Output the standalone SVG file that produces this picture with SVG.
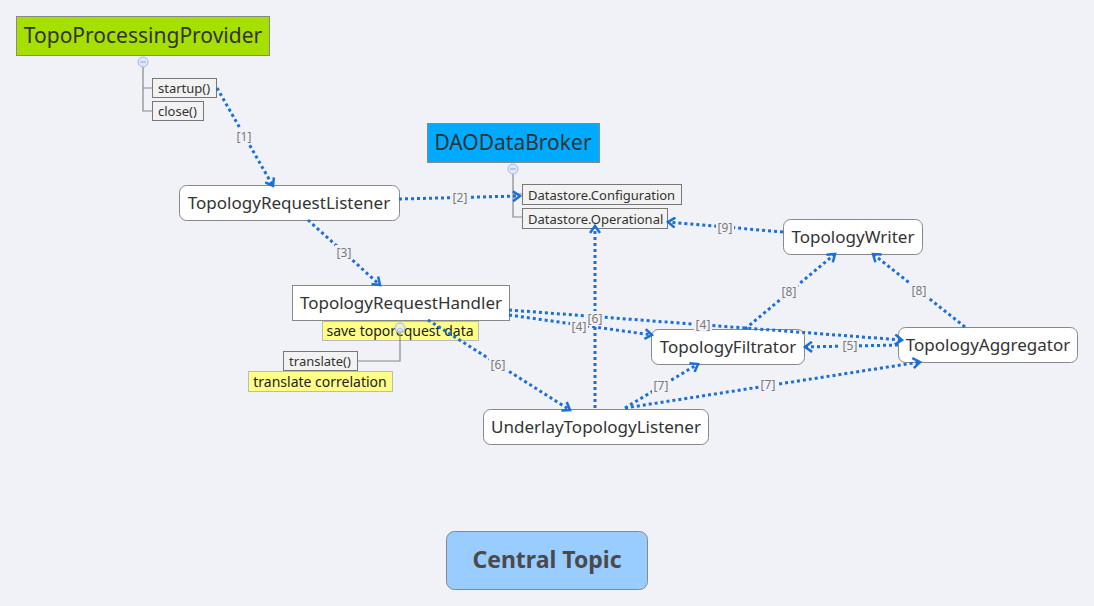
<svg xmlns="http://www.w3.org/2000/svg" width="1094" height="606" viewBox="0 0 1094 606">
<style>
text{font-family:"Noto Sans","DejaVu Sans",sans-serif;fill:#333}
.big{font-size:21px}
.mid{font-size:17px}
.sm{font-size:13px}
.nt{font-size:14px;fill:#222}
.node{fill:#fff;stroke:#888;stroke-width:1}
.sub{fill:#f2f2f2;stroke:#777;stroke-width:1}
.note{fill:#ffff88;stroke:#bbb;stroke-width:1}
.tree{fill:none;stroke:#888;stroke-width:1.2}
.col{fill:#dfe8fb;stroke:#9fb8e8;stroke-width:1}
.con{fill:none;stroke:#1a6fd8;stroke-width:3;stroke-dasharray:3 3}
.lbl{font-size:12px;fill:#7a7a7a}
.lb{fill:#f1f2f8}
</style>
<defs>
<marker id="arr" markerWidth="12" markerHeight="12" refX="9" refY="6" orient="auto" markerUnits="userSpaceOnUse">
<polyline points="2,1 9,6 2,11" fill="none" stroke="#1a6fd8" stroke-width="2.5"/>
</marker>
</defs>
<rect width="1094" height="606" fill="#f1f2f8"/>

<g id="TopoProcessingProvider">
<rect x="16.5" y="16.5" width="253" height="39" fill="#a5e000" stroke="#888"/>
<text class="big" x="143" y="43" text-anchor="middle">TopoProcessingProvider</text>
<path class="tree" d="M143,67 V111 H152 M143,88 H152"/>
<circle class="col" cx="143" cy="62" r="5"/>
<line x1="140" y1="62" x2="146" y2="62" stroke="#8aa8e0" stroke-width="1"/>
</g>
<g id="startup">
<rect class="sub" x="152.5" y="78.5" width="64" height="19"/>
<text class="sm" x="158" y="92.5">startup()</text>
</g>
<g id="close">
<rect class="sub" x="152.5" y="101.5" width="51" height="19"/>
<text class="sm" x="158" y="115.5">close()</text>
</g>

<g id="DAODataBroker">
<rect x="427.5" y="123.5" width="172" height="39" fill="#00aaff" stroke="#888"/>
<text class="big" x="513" y="150" text-anchor="middle">DAODataBroker</text>
<path class="tree" d="M513,174 V217 H522 M513,194 H522"/>
<circle class="col" cx="513" cy="169" r="5"/>
<line x1="510" y1="169" x2="516" y2="169" stroke="#8aa8e0" stroke-width="1"/>
</g>
<g id="DatastoreConfiguration">
<rect class="sub" x="522.5" y="184.5" width="159" height="20"/>
<text class="sm" x="528" y="199.5">Datastore.Configuration</text>
</g>
<g id="DatastoreOperational">
<rect class="sub" x="522.5" y="208.5" width="145" height="20"/>
<text class="sm" x="528" y="223.5">Datastore.Operational</text>
</g>

<g id="TopologyRequestListener">
<rect class="node" x="179.5" y="185.5" width="220" height="35" rx="7"/>
<text class="mid" x="289" y="209" text-anchor="middle">TopologyRequestListener</text>
</g>

<g id="TopologyRequestHandler">
<rect class="node" x="292.5" y="285.5" width="217" height="35"/>
<text class="mid" x="401" y="309" text-anchor="middle">TopologyRequestHandler</text>
<rect class="note" x="322.5" y="321.5" width="156" height="19"/>
<text class="nt" x="400" y="336" text-anchor="middle">save toporequest data</text>
<path class="tree" d="M400,333 V361 H357"/>
<circle class="col" cx="400" cy="328" r="5" fill-opacity="0.8"/>
</g>
<g id="translate">
<rect class="sub" x="283.5" y="351.5" width="74" height="19"/>
<text class="sm" x="320" y="365.5" text-anchor="middle">translate()</text>
<rect class="note" x="248.5" y="371.5" width="144" height="20"/>
<text class="nt" x="320" y="386.5" text-anchor="middle">translate correlation</text>
</g>

<g id="UnderlayTopologyListener">
<rect class="node" x="483.5" y="409.5" width="225" height="35" rx="7"/>
<text class="mid" x="596" y="433" text-anchor="middle">UnderlayTopologyListener</text>
</g>
<g id="TopologyFiltrator">
<rect class="node" x="651.5" y="329.5" width="153" height="35" rx="7"/>
<text class="mid" x="728" y="353" text-anchor="middle">TopologyFiltrator</text>
</g>
<g id="TopologyAggregator">
<rect class="node" x="898.5" y="327.5" width="179" height="35" rx="7"/>
<text class="mid" x="988" y="351" text-anchor="middle">TopologyAggregator</text>
</g>
<g id="TopologyWriter">
<rect class="node" x="783.5" y="219.5" width="139" height="35" rx="7"/>
<text class="mid" x="853" y="243" text-anchor="middle">TopologyWriter</text>
</g>

<g id="CentralTopic">
<rect x="446.5" y="531.5" width="201" height="58" rx="8" fill="#99ccff" stroke="#888"/>
<text x="547" y="568" text-anchor="middle" style="font-size:23px;font-weight:bold;fill:#4a4a4a">Central Topic</text>
</g>

<g id="connectors">
<path class="con" d="M217,88 L273,186" marker-end="url(#arr)"/>
<path class="con" d="M399,199 L520,196" marker-end="url(#arr)"/>
<path class="con" d="M308,220 L380,285" marker-end="url(#arr)"/>
<path class="con" d="M509,315 L652,335" marker-end="url(#arr)"/>
<path class="con" d="M509,310 L902,340" marker-end="url(#arr)"/>
<path class="con" d="M898,345 L805,347" marker-end="url(#arr)"/>
<path class="con" d="M428,320 L570,410" marker-end="url(#arr)"/>
<path class="con" d="M595,408 L595,226" marker-end="url(#arr)"/>
<path class="con" d="M625,408 L698,364" marker-end="url(#arr)"/>
<path class="con" d="M625,408 L920,362" marker-end="url(#arr)"/>
<path class="con" d="M745,329 L835,254" marker-end="url(#arr)"/>
<path class="con" d="M965,327 L873,254" marker-end="url(#arr)"/>
<path class="con" d="M783,232 L668,222" marker-end="url(#arr)"/>
<g>
<rect class="lb" x="235" y="129" width="18" height="15"/><text class="lbl" x="244" y="141" text-anchor="middle">[1]</text>
<rect class="lb" x="451" y="190" width="18" height="15"/><text class="lbl" x="460" y="202" text-anchor="middle">[2]</text>
<rect class="lb" x="335" y="245" width="18" height="15"/><text class="lbl" x="344" y="257" text-anchor="middle">[3]</text>
<rect class="lb" x="570" y="319" width="18" height="15"/><text class="lbl" x="579" y="331" text-anchor="middle">[4]</text>
<rect class="lb" x="694" y="317" width="18" height="15"/><text class="lbl" x="703" y="329" text-anchor="middle">[4]</text>
<rect class="lb" x="841" y="338" width="18" height="15"/><text class="lbl" x="850" y="350" text-anchor="middle">[5]</text>
<rect class="lb" x="489" y="357" width="18" height="15"/><text class="lbl" x="498" y="369" text-anchor="middle">[6]</text>
<rect class="lb" x="586" y="311" width="18" height="15"/><text class="lbl" x="595" y="323" text-anchor="middle">[6]</text>
<rect class="lb" x="652" y="378" width="18" height="15"/><text class="lbl" x="661" y="390" text-anchor="middle">[7]</text>
<rect class="lb" x="759" y="377" width="18" height="15"/><text class="lbl" x="768" y="389" text-anchor="middle">[7]</text>
<rect class="lb" x="780" y="284" width="18" height="15"/><text class="lbl" x="789" y="296" text-anchor="middle">[8]</text>
<rect class="lb" x="910" y="283" width="18" height="15"/><text class="lbl" x="919" y="295" text-anchor="middle">[8]</text>
<rect class="lb" x="716" y="220" width="18" height="15"/><text class="lbl" x="725" y="232" text-anchor="middle">[9]</text>
</g>
</g>
</svg>
